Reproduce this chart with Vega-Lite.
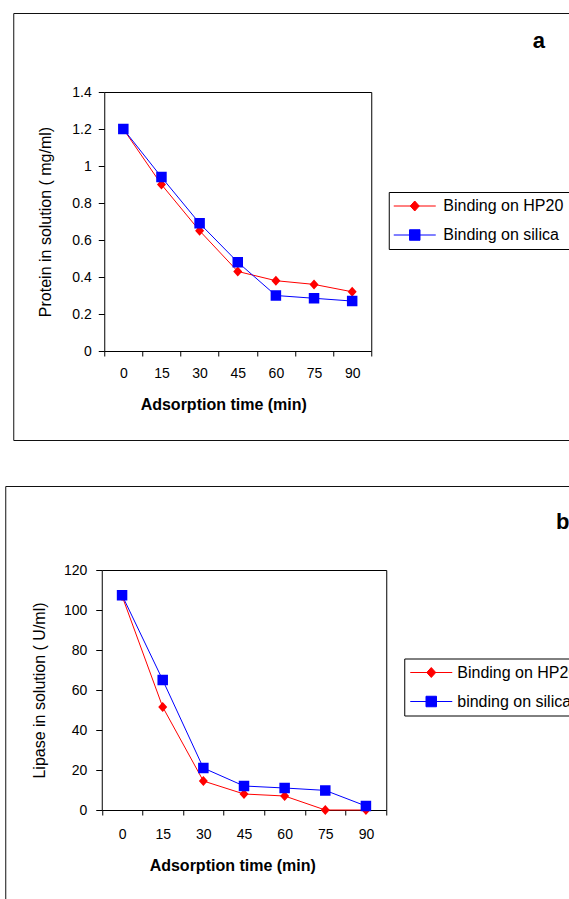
{
  "$schema": "https://vega.github.io/schema/vega-lite/v6.json",
  "padding": {"left": 4, "top": 12, "right": 0, "bottom": 0},
  "spacing": 44,
  "center": true,
  "resolve": {
    "scale": {"stroke": "independent", "fill": "independent", "shape": "independent"},
    "legend": {"stroke": "independent", "fill": "independent", "shape": "independent"}
  },
  "vconcat": [
    {
      "width": 566,
      "height": 427,
      "data": {"values": [
        {"time": 0, "value": 1.2, "series": "Binding on HP20"},
        {"time": 15, "value": 0.9, "series": "Binding on HP20"},
        {"time": 30, "value": 0.65, "series": "Binding on HP20"},
        {"time": 45, "value": 0.43, "series": "Binding on HP20"},
        {"time": 60, "value": 0.38, "series": "Binding on HP20"},
        {"time": 75, "value": 0.36, "series": "Binding on HP20"},
        {"time": 90, "value": 0.32, "series": "Binding on HP20"},
        {"time": 0, "value": 1.2, "series": "Binding on silica"},
        {"time": 15, "value": 0.94, "series": "Binding on silica"},
        {"time": 30, "value": 0.69, "series": "Binding on silica"},
        {"time": 45, "value": 0.48, "series": "Binding on silica"},
        {"time": 60, "value": 0.3, "series": "Binding on silica"},
        {"time": 75, "value": 0.285, "series": "Binding on silica"},
        {"time": 90, "value": 0.27, "series": "Binding on silica"}
      ]},
      "layer": [
        {
          "mark": {"type": "line", "strokeWidth": 1},
          "encoding": {
            "x": {"field": "time", "type": "ordinal",
              "scale": {"range": [91, 358], "paddingInner": 0, "paddingOuter": 0},
              "axis": {"orient": "bottom", "offset": -89, "tickBand": "extent", "labelAngle": 0, "tickSize": 5, "labelPadding": 10, "title": "Adsorption time (min)", "titleFontWeight": "bold", "titleFontSize": 16, "titlePadding": 16, "titleX": 210}},
            "y": {"field": "value", "type": "quantitative",
              "scale": {"domain": [0, 1.4], "range": [338, 79], "nice": false},
              "axis": {"orient": "left", "offset": -91, "values": [0, 0.2, 0.4, 0.6, 0.8, 1, 1.2, 1.4], "format": "~g", "tickSize": 6, "labelPadding": 7, "title": "Protein in solution ( mg/ml)", "titleFontWeight": "normal", "titleFontSize": 16, "titlePadding": 18}},
            "stroke": {"field": "series", "type": "nominal",
              "scale": {"domain": ["Binding on HP20", "Binding on silica"], "range": ["#ff0000", "#0000ff"]},
              "legend": {"orient": "none", "legendX": 375.5, "legendY": 179, "title": null, "strokeColor": "black", "fillColor": "white", "padding": 6, "rowPadding": 13, "labelFontSize": 16, "labelColor": "black", "labelOffset": 20.5, "symbolOffset": 12, "symbolSize": 100, "symbolStrokeWidth": 1}}
          }
        },
        {
          "mark": {"type": "point", "filled": true, "opacity": 1, "size": 100},
          "encoding": {
            "x": {"field": "time", "type": "ordinal",
              "axis": {"orient": "top", "offset": -79, "labels": false, "ticks": false, "title": "a", "titleX": 525, "titleY": -45, "titleAlign": "center", "titleBaseline": "alphabetic", "titleAngle": 0, "titleFontSize": 22, "titleFontWeight": "bold"}},
            "y": {"field": "value", "type": "quantitative",
              "axis": {"orient": "right", "offset": -208, "labels": false, "ticks": false, "title": null}},
            "fill": {"field": "series", "type": "nominal",
              "scale": {"domain": ["Binding on HP20", "Binding on silica"], "range": ["#ff0000", "#0000ff"]},
              "legend": {"orient": "none", "legendX": 375.5, "legendY": 179, "title": null, "strokeColor": "black", "fillColor": "white", "padding": 6, "rowPadding": 13, "labelFontSize": 16, "labelColor": "black", "labelOffset": 20.5, "symbolOffset": 12, "symbolSize": 100, "symbolStrokeWidth": 1}},
            "shape": {"field": "series", "type": "nominal",
              "scale": {"domain": ["Binding on HP20", "Binding on silica"], "range": ["M-4.2,0H4.2M0,-1L0.9,0L0,1L-0.9,0Z", "M-4.2,0H4.2M-1.05,-1.05H1.05V1.05H-1.05Z"]},
              "legend": {"orient": "none", "legendX": 375.5, "legendY": 179, "title": null, "strokeColor": "black", "fillColor": "white", "padding": 6, "rowPadding": 13, "labelFontSize": 16, "labelColor": "black", "labelOffset": 20.5, "symbolOffset": 12, "symbolSize": 100, "symbolStrokeWidth": 1}}
          }
        }
      ],
      "resolve": {"axis": {"x": "independent", "y": "independent"}}
    },
    {
      "width": 582,
      "height": 418,
      "data": {"values": [
        {"time": 0, "value": 107, "series": "Binding on HP20"},
        {"time": 15, "value": 51.5, "series": "Binding on HP20"},
        {"time": 30, "value": 14.5, "series": "Binding on HP20"},
        {"time": 45, "value": 8, "series": "Binding on HP20"},
        {"time": 60, "value": 7, "series": "Binding on HP20"},
        {"time": 75, "value": 0, "series": "Binding on HP20"},
        {"time": 90, "value": 0, "series": "Binding on HP20"},
        {"time": 0, "value": 107.4, "series": "binding on silica"},
        {"time": 15, "value": 65, "series": "binding on silica"},
        {"time": 30, "value": 21, "series": "binding on silica"},
        {"time": 45, "value": 12, "series": "binding on silica"},
        {"time": 60, "value": 11, "series": "binding on silica"},
        {"time": 75, "value": 9.8, "series": "binding on silica"},
        {"time": 90, "value": 2, "series": "binding on silica"}
      ]},
      "layer": [
        {
          "mark": {"type": "line", "strokeWidth": 1},
          "encoding": {
            "x": {"field": "time", "type": "ordinal",
              "scale": {"range": [96.5, 381], "paddingInner": 0, "paddingOuter": 0},
              "axis": {"orient": "bottom", "offset": -94, "tickBand": "extent", "labelAngle": 0, "tickSize": 5, "labelPadding": 12.5, "title": "Adsorption time (min)", "titleFontWeight": "bold", "titleFontSize": 16, "titlePadding": 16, "titleX": 227}},
            "y": {"field": "value", "type": "quantitative",
              "scale": {"domain": [0, 120], "range": [324, 84], "nice": false},
              "axis": {"orient": "left", "offset": -96.5, "values": [0, 20, 40, 60, 80, 100, 120], "tickSize": 6, "labelPadding": 9, "title": "Lipase in solution ( U/ml)", "titleFontWeight": "normal", "titleFontSize": 16, "titlePadding": 16}},
            "stroke": {"field": "series", "type": "nominal",
              "scale": {"domain": ["Binding on HP20", "binding on silica"], "range": ["#ff0000", "#0000ff"]},
              "legend": {"orient": "none", "legendX": 399, "legendY": 172.5, "title": null, "strokeColor": "black", "fillColor": "white", "padding": 6, "rowPadding": 13, "labelFontSize": 16, "labelColor": "black", "labelOffset": 18, "symbolOffset": 13, "symbolSize": 100, "symbolStrokeWidth": 1}}
          }
        },
        {
          "mark": {"type": "point", "filled": true, "opacity": 1, "size": 100},
          "encoding": {
            "x": {"field": "time", "type": "ordinal",
              "axis": {"orient": "top", "offset": -84, "labels": false, "ticks": false, "title": "b", "titleX": 557, "titleY": -42, "titleAlign": "center", "titleBaseline": "alphabetic", "titleAngle": 0, "titleFontSize": 22, "titleFontWeight": "bold"}},
            "y": {"field": "value", "type": "quantitative",
              "axis": {"orient": "right", "offset": -201, "labels": false, "ticks": false, "title": null}},
            "fill": {"field": "series", "type": "nominal",
              "scale": {"domain": ["Binding on HP20", "binding on silica"], "range": ["#ff0000", "#0000ff"]},
              "legend": {"orient": "none", "legendX": 399, "legendY": 172.5, "title": null, "strokeColor": "black", "fillColor": "white", "padding": 6, "rowPadding": 13, "labelFontSize": 16, "labelColor": "black", "labelOffset": 18, "symbolOffset": 13, "symbolSize": 100, "symbolStrokeWidth": 1}},
            "shape": {"field": "series", "type": "nominal",
              "scale": {"domain": ["Binding on HP20", "binding on silica"], "range": ["M-4.2,0H4.2M0,-1L0.9,0L0,1L-0.9,0Z", "M-4.2,0H4.2M-1.05,-1.05H1.05V1.05H-1.05Z"]},
              "legend": {"orient": "none", "legendX": 399, "legendY": 172.5, "title": null, "strokeColor": "black", "fillColor": "white", "padding": 6, "rowPadding": 13, "labelFontSize": 16, "labelColor": "black", "labelOffset": 18, "symbolOffset": 13, "symbolSize": 100, "symbolStrokeWidth": 1}}
          }
        }
      ],
      "resolve": {"axis": {"x": "independent", "y": "independent"}}
    }
  ],
  "config": {
    "font": "Liberation Sans",
    "view": {"stroke": "#111111", "strokeWidth": 1},
    "axis": {"grid": false, "domainColor": "black", "tickColor": "black", "labelColor": "black", "titleColor": "black", "labelFontSize": 14, "domainWidth": 1, "tickWidth": 1},
    "legend": {"labelFont": "Liberation Sans"}
  }
}
